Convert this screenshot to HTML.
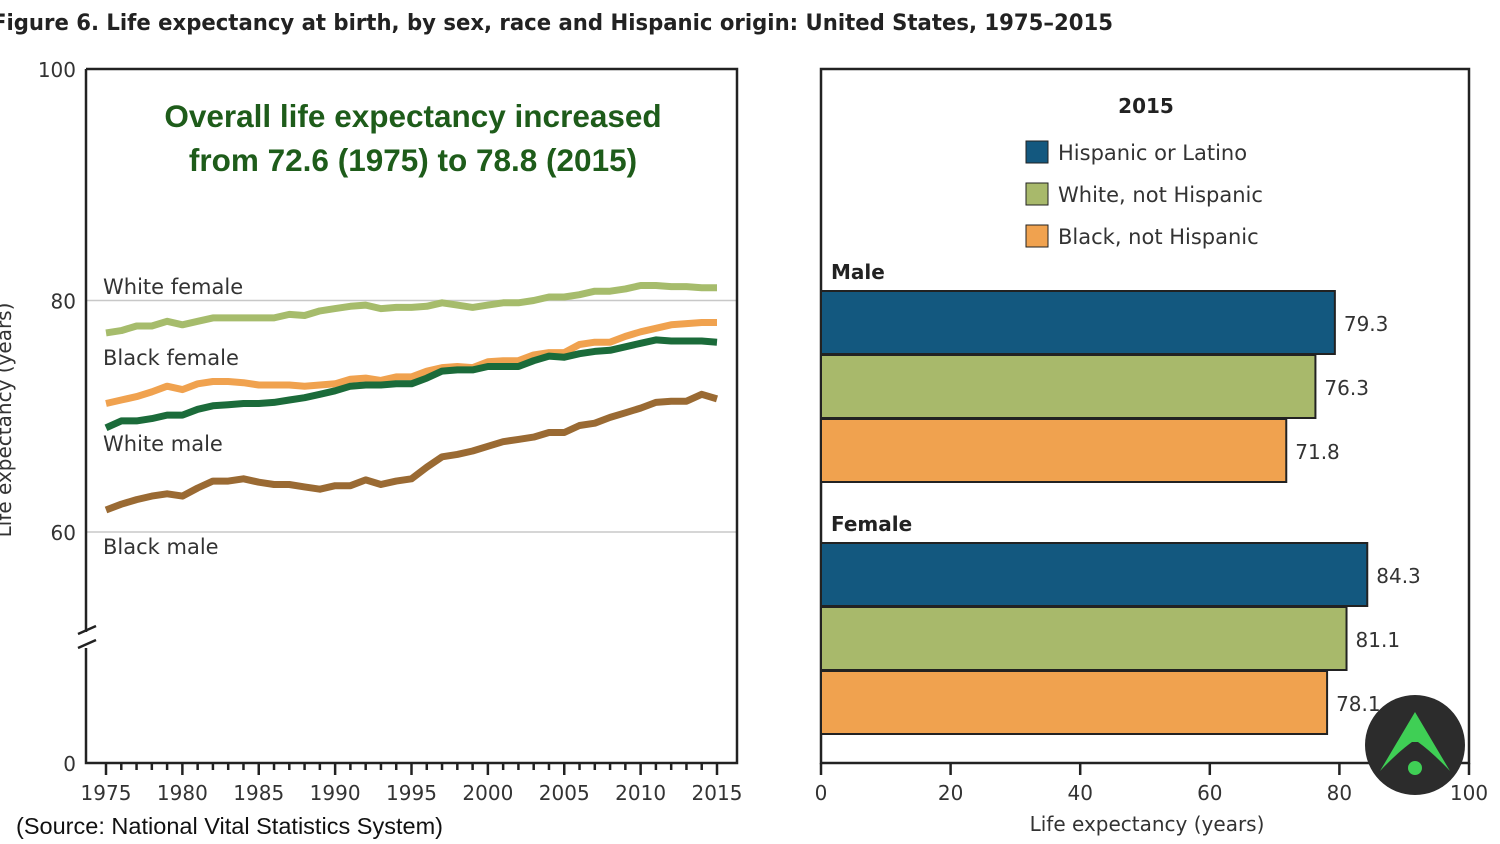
<!DOCTYPE html>
<html><head><meta charset="utf-8"><style>
html,body{margin:0;padding:0;background:#fff;width:1500px;height:844px;overflow:hidden}
svg{display:block;font-family:"DejaVu Sans","Liberation Sans",sans-serif}
</style></head><body>
<svg id="s" width="1500" height="844" viewBox="0 0 1500 844">
<text x="-8" y="30" font-size="22" font-weight="bold" fill="#222" textLength="1121" lengthAdjust="spacingAndGlyphs">Figure 6. Life expectancy at birth, by sex, race and Hispanic origin: United States, 1975–2015</text>
<g id="left"></g>
<g id="right"></g>
<text x="16" y="834" font-size="23" fill="#111" textLength="427" lengthAdjust="spacingAndGlyphs" style="font-family:'Liberation Sans',sans-serif">(Source: National Vital Statistics System)</text>
<g>
<circle cx="1415" cy="745" r="50" fill="#2c2c2c"/>
<path d="M1415,712 L1450,771 Q1432,752 1418,742 L1412,742 Q1398,752 1380,771 Z" fill="#3fcf55"/>
<circle cx="1415" cy="768" r="7" fill="#3fcf55"/>
</g>
</svg>
<script>
const years=[];for(let y=1975;y<=2015;y++)years.push(y);
const whiteFemale=[77.2,77.4,77.8,77.8,78.2,77.9,78.2,78.5,78.5,78.5,78.5,78.5,78.8,78.7,79.1,79.3,79.5,79.6,79.3,79.4,79.4,79.5,79.8,79.6,79.4,79.6,79.8,79.8,80.0,80.3,80.3,80.5,80.8,80.8,81.0,81.3,81.3,81.2,81.2,81.1,81.1];
const blackFemale=[71.1,71.4,71.7,72.1,72.6,72.3,72.8,73.0,73.0,72.9,72.7,72.7,72.7,72.6,72.7,72.8,73.2,73.3,73.1,73.4,73.4,73.9,74.2,74.3,74.2,74.7,74.8,74.8,75.3,75.5,75.5,76.2,76.4,76.4,76.9,77.3,77.6,77.9,78.0,78.1,78.1];
const whiteMale=[69.0,69.6,69.6,69.8,70.1,70.1,70.6,70.9,71.0,71.1,71.1,71.2,71.4,71.6,71.9,72.2,72.6,72.7,72.7,72.8,72.8,73.3,73.9,74.0,74.0,74.3,74.3,74.3,74.8,75.2,75.1,75.4,75.6,75.7,76.0,76.3,76.6,76.5,76.5,76.5,76.4];
const blackMale=[61.9,62.4,62.8,63.1,63.3,63.1,63.8,64.4,64.4,64.6,64.3,64.1,64.1,63.9,63.7,64.0,64.0,64.5,64.1,64.4,64.6,65.6,66.5,66.7,67.0,67.4,67.8,68.0,68.2,68.6,68.6,69.2,69.4,69.9,70.3,70.7,71.2,71.3,71.3,71.9,71.5];
const seriesNames=["White female","Black female","White male","Black male"];
const yTicks=[100,80,60,0];
const xTickLabels=[1975,1980,1985,1990,1995,2000,2005,2010,2015];
const groups=["Male","Female"];
const barCats=["Hispanic or Latino","White, not Hispanic","Black, not Hispanic"];
const maleVals=[79.3,76.3,71.8];
const femaleVals=[84.3,81.1,78.1];
const barTicks=[0,20,40,60,80,100];

const NS="http://www.w3.org/2000/svg";
function mk(p,t,a,txt){const e=document.createElementNS(NS,t);for(const k in a)e.setAttribute(k,a[k]);if(txt!==undefined)e.textContent=txt;p.appendChild(e);return e;}
const L=document.getElementById('left'),R=document.getElementById('right');
const X=y=>106+(y-1975)*(717-106)/40;
const Y=v=>v>=60?69+(100-v)*(532-69)/40:763-v*(763-640)/45;
[80,60].forEach(v=>{const g=mk(L,'line',{x1:86,x2:737,y1:Y(v),y2:Y(v),stroke:'#c8c8c8','stroke-width':1.5});
});
const fr=mk(L,'path',{d:'M86,69 H737 V763 H86 V648 M86,632 V69',fill:'none',stroke:'#222','stroke-width':2.5});

const br=mk(L,'path',{d:'M78,634 L96,626 M78,648 L96,640',stroke:'#222','stroke-width':2.5});

yTicks.forEach(v=>{const t=mk(L,'text',{x:76,y:Y(v)+8,'text-anchor':'end','font-size':20,fill:'#333'},v);
});
years.forEach(y=>{const maj=y%5===0;const t=mk(L,'line',{x1:X(y),x2:X(y),y1:763,y2:maj?775:770,stroke:'#222','stroke-width':2.5});
});
xTickLabels.forEach(y=>{const t=mk(L,'text',{x:X(y),y:800,'text-anchor':'middle','font-size':20,fill:'#333'},y);
});
const yt=mk(L,'text',{x:0,y:0,transform:'translate(11,420) rotate(-90)','text-anchor':'middle','font-size':20,fill:'#333'},'Life expectancy (years)');

const colors=['#a6bc6c','#f0a24f','#1b6b3a','#9a6a33'];
[whiteFemale,blackFemale,whiteMale,blackMale].forEach((s,i)=>{
 const d=s.map((v,j)=>(j?'L':'M')+X(years[j]).toFixed(1)+','+Y(v).toFixed(1)).join(' ');
 const p=mk(L,'path',{d,fill:'none',stroke:colors[i],'stroke-width':7,'stroke-linejoin':'round'});
 });
const labY=[294,365,451,554];
seriesNames.forEach((n,i)=>{const t=mk(L,'text',{x:103,y:labY[i],'font-size':21,fill:'#333'},n);
});
['Overall life expectancy increased','from 72.6 (1975) to 78.8 (2015)'].forEach((s,i)=>{
 const t=mk(L,'text',{x:413,y:127+i*44,'text-anchor':'middle','font-size':31.5,'font-weight':'bold',fill:'#1e5c1a',style:"font-family:'Liberation Sans',sans-serif"},s);
 });

const BX=v=>821+v*(1469-821)/100;
const rf=mk(R,'rect',{x:821,y:69,width:648,height:694,fill:'none',stroke:'#222','stroke-width':2.5});

barTicks.forEach(v=>{const t=mk(R,'line',{x1:BX(v),x2:BX(v),y1:763,y2:775,stroke:'#222','stroke-width':2.5});

const l=mk(R,'text',{x:BX(v),y:800,'text-anchor':'middle','font-size':20,fill:'#333'},v);
});
const xt=mk(R,'text',{x:1147,y:831,'text-anchor':'middle','font-size':20,fill:'#333'},'Life expectancy (years)');

const bc=['#13587f','#a8b96b','#f0a24f'];
const lt=mk(R,'text',{x:1146,y:113,'text-anchor':'middle','font-size':20,'font-weight':'bold',fill:'#222'},'2015');

barCats.forEach((c,i)=>{const r=mk(R,'rect',{x:1026,y:141+i*42,width:22,height:22,fill:bc[i],stroke:'#222','stroke-width':1});

const t=mk(R,'text',{x:1058,y:160+i*42,'font-size':21,fill:'#333'},c);
});
const gTop=[291,543];
[maleVals,femaleVals].forEach((vals,g)=>{
 const gl=mk(R,'text',{x:831,y:gTop[g]-12,'font-size':20,'font-weight':'bold',fill:'#222'},groups[g]);
 
 vals.forEach((v,i)=>{const y=gTop[g]+i*64;
  const b=mk(R,'rect',{x:821,y:y,width:BX(v)-821,height:63,fill:bc[i],stroke:'#222','stroke-width':2});
  
  const t=mk(R,'text',{x:BX(v)+9,y:y+40,'font-size':20,fill:'#333'},v.toFixed(1));
  });});
</script>
</body></html>
